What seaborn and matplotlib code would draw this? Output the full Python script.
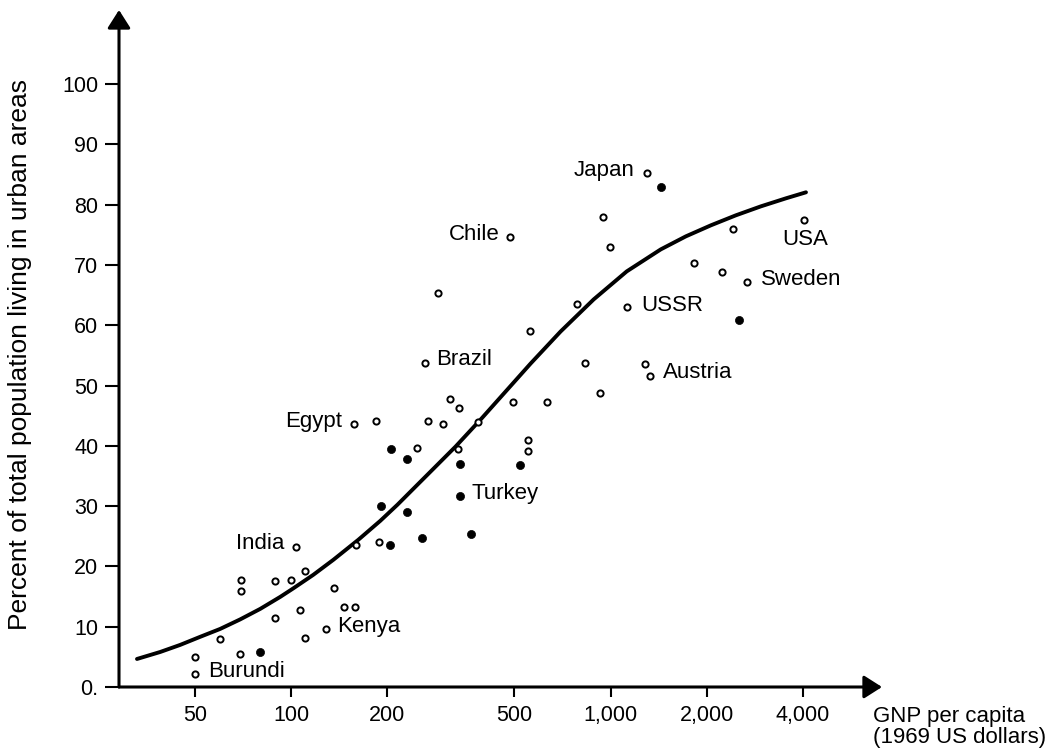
"""Urbanisation vs GNP per capita, redrawn from the textbook scatter."""

import matplotlib.pyplot as plt
import seaborn as sns
from matplotlib.ticker import NullLocator

# open circles (country observations)
open_gnp = [50, 50, 59.8, 69.3, 69.8, 69.8, 89, 89, 99.5, 103.7, 106.5, 110.2, 110.7,
            128.5, 136, 146.8, 158.9, 159, 188, 157.7, 184, 247.8, 263, 268, 288.5,
            297.7, 313, 335, 332, 384, 482.7, 494, 550, 550, 560.6, 632, 787, 829,
            923, 947, 998, 1124, 1282, 1329, 1298, 1823, 2232, 2410, 2670, 4023]
open_urban = [4.9, 2.1, 7.9, 5.5, 17.7, 15.9, 17.6, 11.4, 17.8, 23.2, 12.8, 8.1, 19.2,
              9.6, 16.4, 13.3, 13.2, 23.6, 24.0, 43.7, 44.1, 39.6, 53.8, 44.1, 65.3,
              43.7, 47.8, 46.2, 39.5, 43.9, 74.6, 47.3, 40.9, 39.2, 59.1, 47.3, 63.5,
              53.8, 48.7, 77.9, 73.0, 63.0, 53.5, 51.6, 85.2, 70.4, 68.9, 75.9, 67.2, 77.4]

# filled circles
filled_gnp = [79.6, 191.6, 204, 206, 229.6, 230.8, 257, 337, 337, 365, 521, 1437, 2514]
filled_urban = [5.8, 30.1, 23.6, 39.5, 37.8, 29.1, 24.7, 37.0, 31.6, 25.4, 36.8, 82.9, 60.8]

# hand-drawn trend curve
curve_gnp = [32.9, 38.9, 44.9, 51.8, 59.9, 69.2, 80.0, 92.4, 101.5, 117.2, 135.5,
             162.2, 190.1, 215.0, 244.8, 272.8, 326.8, 391.4, 468.8, 561.5, 697.1,
             884.6, 1122.8, 1434.9, 1719, 2059, 2465, 2953, 3537, 4087]
curve_urban = [4.65, 5.81, 6.98, 8.31, 9.63, 11.21, 12.96, 14.95, 16.36, 18.60, 21.10,
               24.42, 27.57, 30.23, 33.22, 35.71, 39.87, 44.35, 49.0, 53.65, 58.97,
               64.29, 68.94, 72.59, 74.75, 76.58, 78.24, 79.73, 81.06, 82.06]

label_names = ["Burundi", "India", "Kenya", "Egypt", "Brazil", "Turkey", "Chile",
               "Japan", "USSR", "Austria", "Sweden", "USA"]
label_gnp = [50, 103.7, 128.5, 157.7, 263, 337, 482.7, 1298, 1124, 1329, 2670, 4023]
label_urban = [2.1, 23.2, 9.6, 43.7, 53.8, 31.6, 74.6, 85.2, 63.0, 51.6, 67.2, 77.4]

x_ticks = [50, 100, 200, 500, 1000, 2000, 4000]
x_tick_labels = ["50", "100", "200", "500", "1,000", "2,000", "4,000"]
y_ticks = [0, 10, 20, 30, 40, 50, 60, 70, 80, 90, 100]
y_tick_labels = ["0.", "10", "20", "30", "40", "50", "60", "70", "80", "90", "100"]

# where each label sits relative to its dot, in pixels: (dx, dy, ha)
LABEL_PLACEMENT = {
    "Burundi": (13, -3, "left"),
    "India": (-12, -2, "right"),
    "Kenya": (11, -3, "left"),
    "Egypt": (-12, -3, "right"),
    "Brazil": (11, -2, "left"),
    "Turkey": (12, -3, "left"),
    "Chile": (-10, -3, "right"),
    "Japan": (-12, -3, "right"),
    "USSR": (14, -4, "left"),
    "Austria": (13, -2, "left"),
    "Sweden": (14, -3, "left"),
    "USA": (1, -25, "center"),
}

W, H = 1059, 755
AX_LEFT, AX_RIGHT, AX_BOTTOM, AX_TOP = 119, 882, 687, 10

sns.set_style("white")
plt.rcParams["font.family"] = ["Liberation Sans", "DejaVu Sans"]
plt.rcParams.update({"text.color": "black", "axes.labelcolor": "black",
                     "xtick.color": "black", "ytick.color": "black"})

fig = plt.figure(figsize=(W / 100, H / 100), dpi=100)
ax = fig.add_axes([AX_LEFT / W, (H - AX_BOTTOM) / H,
                   (AX_RIGHT - AX_LEFT) / W, (AX_BOTTOM - AX_TOP) / H])
ax.set_xscale("log")

sns.lineplot(x=curve_gnp, y=curve_urban, ax=ax, color="black", lw=2.8, sort=False,
             solid_joinstyle="round", solid_capstyle="round")
sns.scatterplot(x=open_gnp, y=open_urban, ax=ax, s=20, facecolor="white",
                edgecolor="black", linewidth=1.4, zorder=3)
sns.scatterplot(x=filled_gnp, y=filled_urban, ax=ax, s=34, color="black",
                edgecolor="black", linewidth=0.5, zorder=3)

ax.set_xlim(28.9, 7070)
ax.set_ylim(0, 112.3)
ax.set_xticks(x_ticks, x_tick_labels)
ax.set_yticks(y_ticks, y_tick_labels)
ax.xaxis.set_minor_locator(NullLocator())
ax.tick_params(axis="y", left=True, direction="out", length=10, width=1.5, pad=5,
               labelsize=15.5)
ax.tick_params(axis="x", bottom=True, direction="out", length=7, width=1.5, pad=6,
               labelsize=15.5)

for spine in ax.spines.values():
    spine.set_visible(False)
arrow = dict(arrowstyle="-|>,head_length=0.55,head_width=0.35", lw=2.2, color="black",
             mutation_scale=20, shrinkA=0, shrinkB=0)
ax.annotate("", xy=(0, 1), xytext=(0, 0), xycoords="axes fraction",
            arrowprops=arrow, annotation_clip=False)
ax.annotate("", xy=(1, 0), xytext=(0, 0), xycoords="axes fraction",
            arrowprops=arrow, annotation_clip=False)

for name, gnp, urban in zip(label_names, label_gnp, label_urban):
    dx, dy, ha = LABEL_PLACEMENT[name]
    ax.annotate(name, xy=(gnp, urban), xytext=(dx, dy), textcoords="offset pixels",
                ha=ha, va="baseline", fontsize=16)

ax.set_xlabel("")
ax.set_ylabel("Percent of total population living in urban areas", fontsize=19)
ax.yaxis.set_label_coords((32 - AX_LEFT) / (AX_RIGHT - AX_LEFT),
                          (AX_BOTTOM - 355) / (AX_BOTTOM - AX_TOP))
fig.text(873 / W, 1 - 706 / H, "GNP per capita\n(1969 US dollars)", ha="left",
         va="top", fontsize=16, linespacing=1.0)

fig.savefig("out.png", dpi=100)
